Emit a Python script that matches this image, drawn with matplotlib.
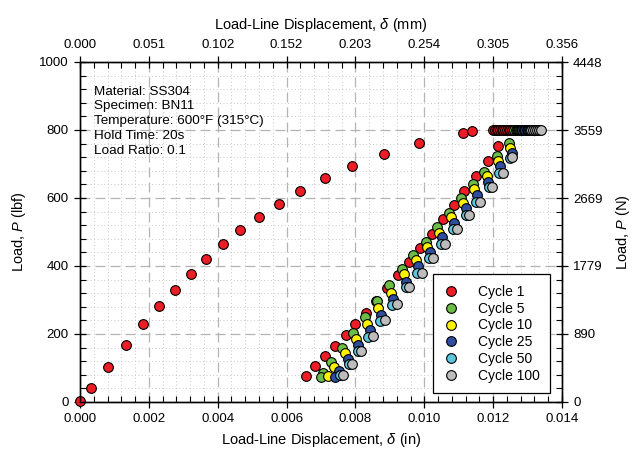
import matplotlib
matplotlib.use('Agg')
import matplotlib.pyplot as plt
from matplotlib.ticker import MultipleLocator, FormatStrFormatter

plt.rcParams['font.family'] = ['Liberation Sans', 'DejaVu Sans']
plt.rcParams['mathtext.fontset'] = 'custom'
plt.rcParams['mathtext.rm'] = 'Liberation Sans'
plt.rcParams['mathtext.it'] = 'Liberation Sans:italic'

# Cycle 1: loading, hold at 800 lbf, unloading
x_c1 = [0.00000, 0.00031, 0.00081, 0.00134, 0.00182, 0.00229, 0.00275, 0.00321,
        0.00366, 0.00414, 0.00465, 0.00519, 0.00578, 0.00640, 0.00711, 0.00791,
        0.00882, 0.00986, 0.01111, 0.01139,
        0.01200, 0.01205, 0.01210, 0.01215, 0.01220, 0.01225, 0.01230, 0.01235,
        0.01240, 0.01245, 0.01250, 0.01254,
        0.01215, 0.01184, 0.01150, 0.01116, 0.01086, 0.01053, 0.01021, 0.00987,
        0.00956, 0.00924, 0.00892, 0.00861, 0.00830, 0.00800, 0.00772, 0.00742,
        0.00713, 0.00684, 0.00656]
p_c1 = [3, 42, 104, 168, 228, 281, 330, 377, 421, 464, 505, 545, 583, 621, 658, 693,
        728, 762, 792, 798,
        800, 800, 800, 800, 800, 800, 800, 800, 800, 800, 800, 800,
        753, 710, 666, 621, 579, 537, 495, 452, 412, 374, 334, 297, 263, 229, 197,
        165, 135, 106, 76]

x_c5 = [0.01262, 0.01265, 0.01268, 0.01271, 0.01274, 0.01277,
        0.01247, 0.01210, 0.01173, 0.01141, 0.01106, 0.01072, 0.01037, 0.01005,
        0.00968, 0.00934, 0.00898, 0.00862, 0.00828, 0.00794, 0.00760, 0.00729,
        0.00705, 0.00700]
p_c5 = [800, 800, 800, 800, 800, 800,
        761, 724, 677, 642, 599, 557, 516, 471, 432, 390, 345, 296, 249, 203, 158,
        119, 86, 74]

x_c10 = [0.01275, 0.01278, 0.01281, 0.01284, 0.01287, 0.01290,
         0.01249, 0.01215, 0.01181, 0.01145, 0.01113, 0.01079, 0.01043, 0.01009,
         0.00976, 0.00941, 0.00904, 0.00867, 0.00833, 0.00801, 0.00769, 0.00738,
         0.00721]
p_c10 = [800, 800, 800, 800, 800, 800,
         746, 709, 665, 625, 584, 543, 498, 457, 418, 376, 322, 276, 230, 184, 143,
         104, 76]

x_c25 = [0.01285, 0.01289, 0.01293, 0.01297, 0.01301, 0.01305,
         0.01254, 0.01220, 0.01186, 0.01152, 0.01121, 0.01086, 0.01050, 0.01016,
         0.00982, 0.00946, 0.00910, 0.00875, 0.00842, 0.00808, 0.00779, 0.00753,
         0.00742]
p_c25 = [800, 800, 800, 800, 800, 800,
         733, 694, 648, 609, 570, 527, 484, 442, 400, 354, 302, 257, 212, 168, 126,
         92, 74]

x_c50 = [0.01300, 0.01304, 0.01308, 0.01312, 0.01316, 0.01320,
         0.01249, 0.01218, 0.01188, 0.01150, 0.01121, 0.01084, 0.01048, 0.01014,
         0.00980, 0.00946, 0.00905, 0.00870, 0.00837, 0.00808, 0.00782, 0.00755]
p_c50 = [800, 800, 800, 800, 800, 800,
         717, 674, 631, 589, 550, 508, 465, 423, 380, 338, 285, 238, 192, 151, 111, 79]

x_c100 = [0.01310, 0.01316, 0.01322, 0.01328, 0.01333, 0.01338,
          0.01256, 0.01229, 0.01198, 0.01161, 0.01130, 0.01096, 0.01060, 0.01026,
          0.00992, 0.00957, 0.00920, 0.00886, 0.00850, 0.00816, 0.00789, 0.00763]
p_c100 = [800, 800, 800, 800, 800, 800,
          720, 674, 631, 589, 550, 508, 465, 423, 380, 337, 287, 240, 194, 151, 111, 79]

cycles = ['Cycle 1', 'Cycle 5', 'Cycle 10', 'Cycle 25', 'Cycle 50', 'Cycle 100']
colors = ['#ee1c25', '#6cbd45', '#fff200', '#2e4d9c', '#5cc6dc', '#bcbcbc']
xs = [x_c1, x_c5, x_c10, x_c25, x_c50, x_c100]
ps = [p_c1, p_c5, p_c10, p_c25, p_c50, p_c100]

info = ['Material: SS304', 'Specimen: BN11', 'Temperature: 600\u00b0F (315\u00b0C)',
        'Hold Time: 20s', 'Load Ratio: 0.1']

IN_TO_MM = 25.4
LBF_TO_N = 4.44822

fig = plt.figure(figsize=(6.32, 4.63), dpi=100)
ax = fig.add_axes([80 / 632, 1 - 402 / 463, 482 / 632, 340 / 463])

for x, p, c, lab in zip(xs, ps, colors, cycles):
    ax.plot(x, p, 'o', ms=7, mfc=c, mec='black', mew=0.8, label=lab, clip_on=False, zorder=3)

ax.set_xlim(0, 0.014)
ax.set_ylim(0, 1000)
ax.xaxis.set_major_locator(MultipleLocator(0.002))
ax.xaxis.set_minor_locator(MultipleLocator(0.0004))
ax.yaxis.set_major_locator(MultipleLocator(200))
ax.yaxis.set_minor_locator(MultipleLocator(40))
ax.xaxis.set_major_formatter(FormatStrFormatter('%.3f'))
ax.grid(which='major', color='#b4b4b4', linestyle=(0, (8, 4)), lw=0.9)
ax.grid(which='minor', color='#c8c8c8', linestyle=(0, (1, 2.5)), lw=0.7)
ax.set_axisbelow(True)
ax.tick_params(which='major', direction='inout', length=9, width=0.9, labelsize=9.5)
ax.tick_params(which='minor', direction='in', length=4, width=0.8)
ax.set_xlabel(r'Load-Line Displacement, $\delta$ (in)', fontsize=10.5, labelpad=4)
ax.set_ylabel(r'Load, $P$ (lbf)', fontsize=10.5, labelpad=8)

# top axis in mm
axt = ax.twiny()
axt.set_xlim(0, 0.014 * IN_TO_MM)
axt.xaxis.set_major_locator(MultipleLocator(0.002 * IN_TO_MM))
axt.xaxis.set_minor_locator(MultipleLocator(0.0004 * IN_TO_MM))
axt.xaxis.set_major_formatter(FormatStrFormatter('%.3f'))
axt.tick_params(which='major', direction='inout', length=9, width=0.9, labelsize=9.5)
axt.tick_params(which='minor', direction='in', length=4, width=0.8)
axt.set_xlabel(r'Load-Line Displacement, $\delta$ (mm)', fontsize=10.5, labelpad=7)

# right axis in N
axr = ax.twinx()
axr.set_ylim(0, 1000 * LBF_TO_N)
axr.yaxis.set_major_locator(MultipleLocator(200 * LBF_TO_N))
axr.yaxis.set_minor_locator(MultipleLocator(40 * LBF_TO_N))
axr.yaxis.set_major_formatter(FormatStrFormatter('%.0f'))
axr.tick_params(which='major', direction='inout', length=9, width=0.9, labelsize=9.5)
axr.tick_params(which='minor', direction='in', length=4, width=0.8)
axr.set_ylabel(r'Load, $P$ (N)', fontsize=10.5, labelpad=8)

for a in (ax, axt, axr):
    for s in a.spines.values():
        s.set_linewidth(0.9)

ax.text(0.03, 0.93, '\n'.join(info), transform=ax.transAxes, fontsize=9.7,
        va='top', ha='left', linespacing=1.3)

leg = ax.legend(loc='lower right', bbox_to_anchor=(0.975, 0.026), borderaxespad=0,
                fancybox=False, edgecolor='black', framealpha=1, fontsize=10,
                handlelength=1.2, handletextpad=1.3, labelspacing=0.2, borderpad=0.75,
                markerscale=1.0)
leg.get_frame().set_linewidth(0.9)
leg.set_zorder(5)

fig.savefig('out.png', dpi=100)
